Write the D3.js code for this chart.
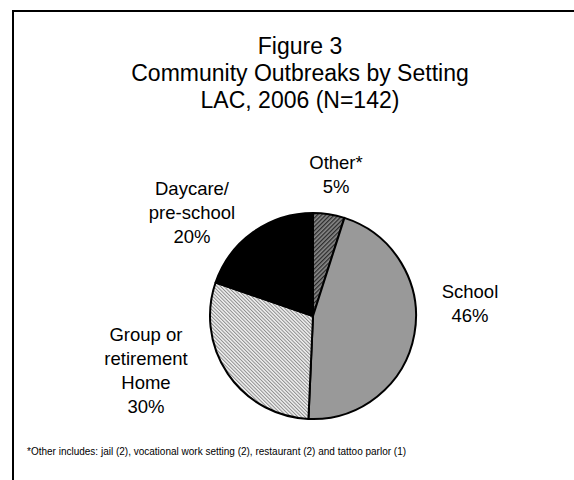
<!DOCTYPE html>
<html><head><meta charset="utf-8">
<script src="https://cdn.jsdelivr.net/npm/d3@7"></script>
<style>body{margin:0;background:#fff}svg{display:block}text{font-family:"Liberation Sans",Arial,sans-serif;fill:#000}</style>
</head><body>
<script>
const categories = ["Other*", "School", "Group or retirement Home", "Daycare/ pre-school"];
const counts = [7, 65, 42, 28];
const labelLines = [["Other*"], ["School"], ["Group or", "retirement", "Home"], ["Daycare/", "pre-school"]];
const titleLines = ["Figure 3", "Community Outbreaks by Setting", "LAC, 2006 (N=142)"];
const footnote = "*Other includes: jail (2), vocational work setting (2), restaurant (2) and tattoo parlor (1)";

const W = 574, H = 480;
const svg = d3.select("body").append("svg").attr("width", W).attr("height", H);
const defs = svg.append("defs");

const p1 = defs.append("pattern").attr("id","hatchDark").attr("patternUnits","userSpaceOnUse")
  .attr("width",3).attr("height",3).attr("patternTransform","rotate(45)");
p1.append("rect").attr("width",3).attr("height",3).attr("fill","#8a8a8a");
p1.append("rect").attr("width",1.3).attr("height",3).attr("fill","#2a2a2a");
const p2 = defs.append("pattern").attr("id","hatchLight").attr("patternUnits","userSpaceOnUse")
  .attr("width",2.5).attr("height",2.5).attr("patternTransform","rotate(-45)");
p2.append("rect").attr("width",2.5).attr("height",2.5).attr("fill","#f2f2f2");
p2.append("rect").attr("width",1).attr("height",2.5).attr("fill","#8c8c8c");

const fills = ["url(#hatchDark)", "#999999", "url(#hatchLight)", "#000000"];

svg.append("path").attr("d","M13,490 L13,11 L590,11").attr("fill","none").attr("stroke","#000").attr("stroke-width",2);

const tt = svg.append("text").attr("text-anchor","middle").attr("font-size",23);
titleLines.forEach((t,i)=>tt.append("tspan").attr("x",300).attr("y",54+i*27).text(t));

const cx = 313, cy = 316, r = 103;
const pie = d3.pie().sort(null).value(d=>d)(counts);
const arc = d3.arc().innerRadius(0).outerRadius(r);
const g = svg.append("g").attr("transform",`translate(${cx},${cy})`);
g.selectAll("path").data(pie).join("path")
  .attr("d",arc).attr("fill",(d,i)=>fills[i])
  .attr("stroke","#000").attr("stroke-width",2).attr("stroke-linejoin","round");

const total = d3.sum(counts);
const labelPos = [[336,169],[470,298],[146,341],[192,195]];
labelLines.forEach((lines,i)=>{
  const all = lines.concat([Math.round(counts[i]/total*100)+"%"]);
  const t = svg.append("text").attr("text-anchor","middle").attr("font-size",18.5);
  all.forEach((l,j)=>t.append("tspan").attr("x",labelPos[i][0]).attr("y",labelPos[i][1]+j*24).text(l));
});

svg.append("text").attr("x",27).attr("y",455).attr("font-size",10).text(footnote);
</script>
</body></html>
